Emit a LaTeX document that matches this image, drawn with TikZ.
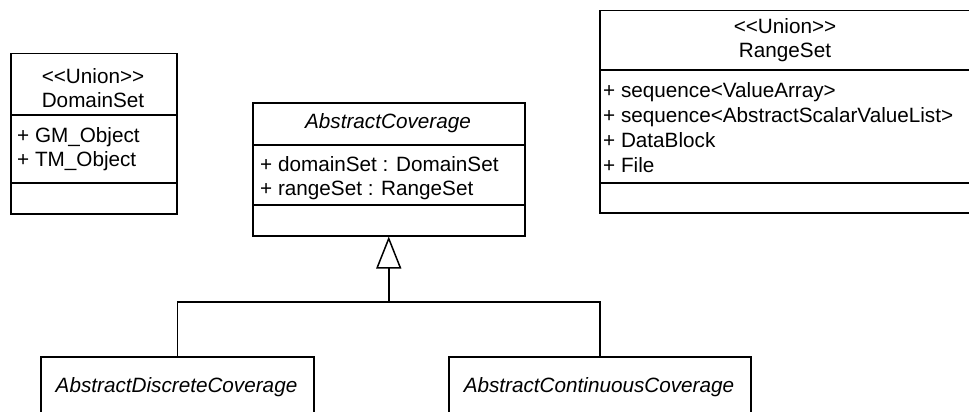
\documentclass[tikz,border=0pt]{standalone}
\usepackage{fontspec}
\setmainfont{Liberation Sans}
\usetikzlibrary{arrows.meta}
\begin{document}
\begin{tikzpicture}[x=1pt,y=-1pt,
  every node/.style={font=\fontsize{20.7}{25}\selectfont},
  umlbox/.style={draw, line width=1.5pt, inner sep=0pt, anchor=north west},
  txt/.style={inner sep=0pt, anchor=base},
  attr/.style={inner sep=0pt, anchor=base west},
  sep/.style={line width=1.5pt}]
\useasboundingbox (0,0) rectangle (969,412);
\clip (0,0) rectangle (969,412);
% DomainSet
\node[umlbox, minimum width=166pt, minimum height=160pt] (dom) at (10,53) {};
\draw[sep] (dom.west |- 0,115) -- (dom.east |- 0,115);
\draw[sep] (dom.west |- 0,183) -- (dom.east |- 0,183);
\node[txt] (domst) at (93,83) {<\kern0pt<Union>\kern0pt>};
\node[txt] (domnm) at (93,107) {DomainSet};
\node[attr] (doma1) at (17,142) {+ GM\_Object};
\node[attr] (doma2) at (17,166) {+ TM\_Object};
% AbstractCoverage
\node[umlbox, minimum width=272pt, minimum height=133pt] (cov) at (252,102) {};
\draw[sep] (cov.west |- 0,145) -- (cov.east |- 0,145);
\draw[sep] (cov.west |- 0,205) -- (cov.east |- 0,205);
\node[txt] (covnm) at (388,128) {\itshape AbstractCoverage};
\node[attr] (cova1) at (260,171) {+ domainSet : DomainSet};
\node[attr] (cova2) at (260,195) {+ rangeSet : RangeSet};
% RangeSet
\node[umlbox, minimum width=374pt, minimum height=202pt] (rng) at (599,10) {};
\draw[sep] (rng.west |- 0,70) -- (rng.east |- 0,70);
\draw[sep] (rng.west |- 0,183) -- (rng.east |- 0,183);
\node[txt] (rngst) at (785,34) {<\kern0pt<Union>\kern0pt>};
\node[txt] (rngnm) at (785,58) {RangeSet};
\node[attr] (rnga1) at (603,97) {+ sequence<ValueArray>};
\node[attr] (rnga2) at (603,122) {+ sequence<AbstractScalarValueList>};
\node[attr] (rnga3) at (603,147) {+ DataBlock};
\node[attr] (rnga4) at (603,172) {+ File};
% Subclasses
\node[umlbox, minimum width=273pt, minimum height=100pt] (disc) at (40,356) {};
\node[txt] (discnm) at (176.5,392) {\itshape AbstractDiscreteCoverage};
\node[umlbox, minimum width=302pt, minimum height=100pt] (cont) at (448,356) {};
\node[txt] (contnm) at (599,392) {\itshape AbstractContinuousCoverage};
% Generalization
\coordinate (junc) at (cov.south |- 0,302);
\draw[line width=1.5pt] (disc.north) |- (junc) -| (cont.north);
\draw[line width=1.5pt, -{Triangle[open, length=32pt, width=25pt]}] (junc) -- (cov.south);
\end{tikzpicture}
\end{document}
